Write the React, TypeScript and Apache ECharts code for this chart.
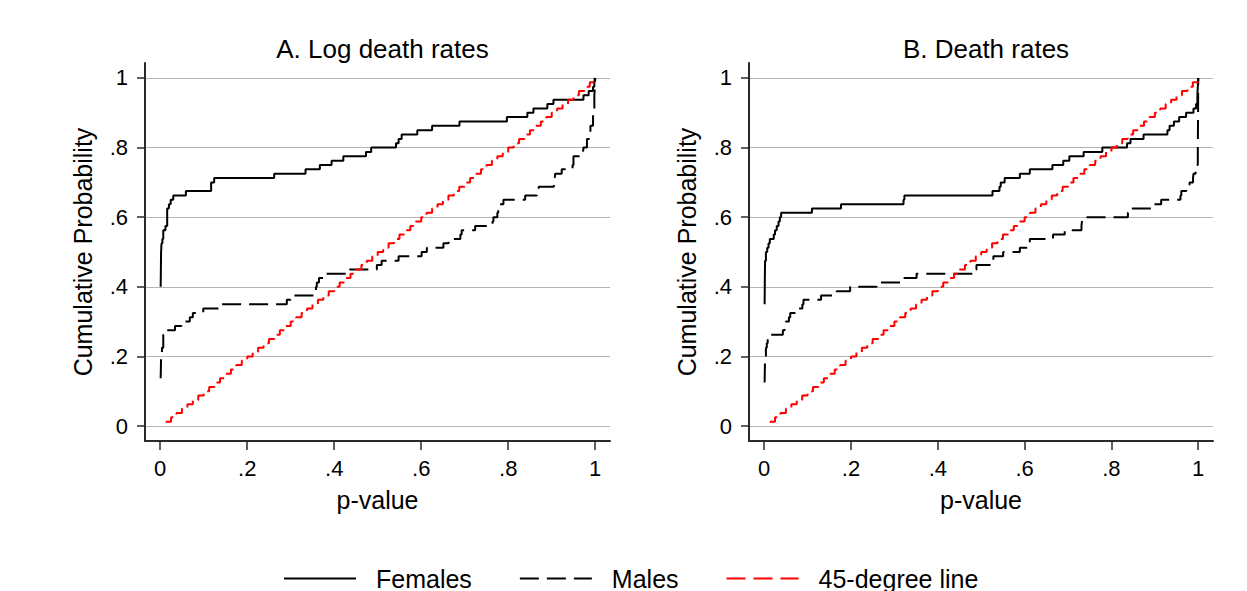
import React, { useEffect, useRef } from "react";
import * as echarts from "echarts";

const FONT = "'Liberation Sans', Arial, Helvetica, sans-serif";

const tickValues = [0, 0.2, 0.4, 0.6, 0.8, 1];
const tickLabels = ["0", ".2", ".4", ".6", ".8", "1"];
const panelTitles = ["A. Log death rates", "B. Death rates"];
const seriesNames = ["Females", "Males", "45-degree line"];
const yAxisTitle = "Cumulative Probability";
const xAxisTitle = "p-value";
const diagonalSteps = 80;

// Panel A: log death rates (p-value at each jump, cumulative probability after the jump)
const logFemalesP = [0.001, 0.0015, 0.002, 0.003, 0.005, 0.007, 0.012, 0.016, 0.02, 0.024, 0.03, 0.059, 0.117, 0.124, 0.262, 0.334, 0.367, 0.394, 0.421, 0.473, 0.485, 0.542, 0.548, 0.555, 0.591, 0.625, 0.688, 0.797, 0.844, 0.858, 0.89, 0.904, 0.973, 0.985, 0.995, 0.998, 0.999];
const logFemalesCum = [0.4, 0.45, 0.5, 0.525, 0.5375, 0.5625, 0.575, 0.625, 0.6375, 0.65, 0.6625, 0.675, 0.7, 0.7125, 0.725, 0.7375, 0.75, 0.7625, 0.775, 0.7875, 0.8, 0.8125, 0.825, 0.8375, 0.85, 0.8625, 0.875, 0.8875, 0.9, 0.9125, 0.925, 0.9375, 0.95, 0.9625, 0.975, 0.9875, 1.0];

const logMalesP = [0.001, 0.002, 0.004, 0.007, 0.0146, 0.034, 0.049, 0.068, 0.075, 0.099, 0.138, 0.291, 0.3, 0.358, 0.36, 0.365, 0.375, 0.429, 0.498, 0.509, 0.548, 0.601, 0.613, 0.651, 0.663, 0.69, 0.693, 0.724, 0.764, 0.766, 0.775, 0.777, 0.779, 0.789, 0.839, 0.866, 0.87, 0.905, 0.907, 0.908, 0.923, 0.948, 0.95, 0.972, 0.973, 0.981, 0.989, 0.995, 0.998, 0.9995, 1.0];
const logMalesCum = [0.1375, 0.2, 0.225, 0.2625, 0.275, 0.2875, 0.3, 0.3125, 0.325, 0.3375, 0.35, 0.3625, 0.375, 0.4, 0.4125, 0.425, 0.4375, 0.45, 0.4625, 0.475, 0.4875, 0.5, 0.5125, 0.525, 0.5375, 0.55, 0.5625, 0.575, 0.5875, 0.6, 0.6125, 0.625, 0.6375, 0.65, 0.6625, 0.675, 0.6875, 0.7, 0.7125, 0.725, 0.7375, 0.75, 0.775, 0.7875, 0.8, 0.825, 0.8625, 0.9, 0.95, 0.975, 1.0];

// Panel B: death rates
const rateFemalesP = [0.001, 0.0015, 0.002, 0.004, 0.007, 0.01, 0.013, 0.022, 0.025, 0.029, 0.033, 0.036, 0.039, 0.11, 0.177, 0.321, 0.323, 0.526, 0.542, 0.545, 0.554, 0.589, 0.612, 0.664, 0.689, 0.703, 0.736, 0.779, 0.836, 0.844, 0.874, 0.929, 0.934, 0.944, 0.956, 0.972, 0.989, 0.995, 0.998, 0.999, 1.0];
const rateFemalesCum = [0.35, 0.425, 0.475, 0.5, 0.5125, 0.525, 0.5375, 0.55, 0.5625, 0.575, 0.5875, 0.6, 0.6125, 0.625, 0.6375, 0.65, 0.6625, 0.675, 0.6875, 0.7, 0.7125, 0.725, 0.7375, 0.75, 0.7625, 0.775, 0.7875, 0.8, 0.8125, 0.825, 0.8375, 0.85, 0.8625, 0.875, 0.8875, 0.9, 0.9125, 0.925, 0.95, 0.975, 1.0];

const rateMalesP = [0.001, 0.002, 0.004, 0.006, 0.008, 0.043, 0.047, 0.05, 0.057, 0.06, 0.079, 0.088, 0.0905, 0.131, 0.167, 0.198, 0.259, 0.3205, 0.351, 0.487, 0.489, 0.526, 0.528, 0.5505, 0.589, 0.61, 0.612, 0.6655, 0.6924, 0.731, 0.732, 0.733, 0.838, 0.84, 0.894, 0.9146, 0.959, 0.961, 0.9724, 0.98, 0.988, 0.989, 0.9938, 0.999, 0.9995, 1.0];
const rateMalesCum = [0.125, 0.2, 0.225, 0.2375, 0.2625, 0.275, 0.2875, 0.3, 0.3125, 0.325, 0.3375, 0.35, 0.3625, 0.375, 0.3875, 0.4, 0.4125, 0.425, 0.4375, 0.45, 0.4625, 0.475, 0.4875, 0.5, 0.5125, 0.525, 0.5375, 0.55, 0.5625, 0.575, 0.5875, 0.6, 0.6125, 0.625, 0.6375, 0.65, 0.6625, 0.675, 0.6875, 0.7, 0.7125, 0.725, 0.75, 0.8, 0.875, 1.0];

const pairs = (p: number[], c: number[]) => p.map((x, i) => [x, c[i]]);

// 45-degree reference line drawn as the uniform step CDF
const diagonal: number[][] = [];
for (let k = 1; k <= diagonalSteps; k++) diagonal.push([k / diagonalSteps, k / diagonalSteps]);

const tickLabel = (v: number) => {
  const i = tickValues.findIndex((t) => Math.abs(t - v) < 1e-6);
  return i >= 0 ? tickLabels[i] : "";
};

export default function App() {
  const ref = useRef<HTMLDivElement>(null);
  useEffect(() => {
    const chart = echarts.init(ref.current!, null, { renderer: "svg" });
    const grids = [
      { left: 145, top: 63, width: 465, height: 378 },
      { left: 749, top: 63, width: 464, height: 378 },
    ];
    const panels = [
      { females: pairs(logFemalesP, logFemalesCum), males: pairs(logMalesP, logMalesCum) },
      { females: pairs(rateFemalesP, rateFemalesCum), males: pairs(rateMalesP, rateMalesCum) },
    ];
    const axisColor = "#2a2a2a";
    const xAxes = grids.map((_, g) => ({
      type: "value",
      gridIndex: g,
      min: -0.035,
      max: 1.034,
      name: xAxisTitle,
      nameLocation: "middle",
      nameGap: 46,
      nameTextStyle: { fontSize: 25, color: "#000", fontFamily: FONT },
      axisLine: { show: true, onZero: false, lineStyle: { color: axisColor, width: 2 } },
      axisTick: { show: true, customValues: tickValues, length: 9, lineStyle: { color: axisColor, width: 1.5 } },
      axisLabel: { customValues: tickValues, formatter: tickLabel, fontSize: 22, color: "#000", margin: 16, fontFamily: FONT },
      splitLine: { show: false },
    }));
    const yAxes = grids.map((_, g) => ({
      type: "value",
      gridIndex: g,
      min: -0.043,
      max: 1.043,
      name: yAxisTitle,
      nameLocation: "middle",
      nameGap: 50,
      nameTextStyle: { fontSize: 25, color: "#000", fontFamily: FONT },
      axisLine: { show: true, onZero: false, lineStyle: { color: axisColor, width: 2 } },
      axisTick: { show: true, customValues: tickValues, length: 8, lineStyle: { color: axisColor, width: 1.5 } },
      axisLabel: { customValues: tickValues, formatter: tickLabel, fontSize: 22, color: "#000", margin: 17, fontFamily: FONT },
      splitLine: { show: true, lineStyle: { color: "#b4b4b4", width: 1.2 } },
    }));
    const series: any[] = [];
    panels.forEach((pan, g) => {
      series.push({
        type: "line", name: seriesNames[0], xAxisIndex: g, yAxisIndex: g, data: pan.females,
        step: "end", symbol: "none", showSymbol: false, z: 3,
        lineStyle: { color: "#000", width: 2 }, itemStyle: { color: "#000" },
      });
      series.push({
        type: "line", name: seriesNames[1], xAxisIndex: g, yAxisIndex: g, data: pan.males,
        step: "end", symbol: "none", showSymbol: false, z: 4,
        lineStyle: { color: "#000", width: 2, type: [19, 8] }, itemStyle: { color: "#000" },
      });
      series.push({
        type: "line", name: seriesNames[2], xAxisIndex: g, yAxisIndex: g, data: diagonal,
        step: "end", symbol: "none", showSymbol: false, z: 5,
        lineStyle: { color: "#ff0000", width: 2, type: [12, 6] }, itemStyle: { color: "#ff0000" },
      });
    });
    chart.setOption({
      animation: false,
      backgroundColor: "#fff",
      textStyle: { fontFamily: FONT },
      title: [
        { text: panelTitles[0], left: 377.5, top: 31, textAlign: "center", textStyle: { fontSize: 26, fontWeight: "normal", color: "#000", fontFamily: FONT } },
        { text: panelTitles[1], left: 981, top: 31, textAlign: "center", textStyle: { fontSize: 26, fontWeight: "normal", color: "#000", fontFamily: FONT } },
      ],
      legend: {
        left: 278,
        top: 561,
        itemWidth: 72,
        itemHeight: 22,
        itemGap: 47,
        selectedMode: false,
        itemStyle: { opacity: 0 },
        textStyle: { fontSize: 25, color: "#000", fontFamily: FONT, padding: [0, 0, 0, 15] },
        data: [
          { name: seriesNames[0] },
          { name: seriesNames[1] },
          { name: seriesNames[2], lineStyle: { type: [19, 8] } },
        ],
      },
      grid: grids,
      xAxis: xAxes,
      yAxis: yAxes,
      series,
    });
    return () => chart.dispose();
  }, []);
  return (
    <div
      ref={ref}
      style={{ position: "fixed", left: 0, top: 0, width: 1247, height: 591, background: "#fff" }}
    />
  );
}
